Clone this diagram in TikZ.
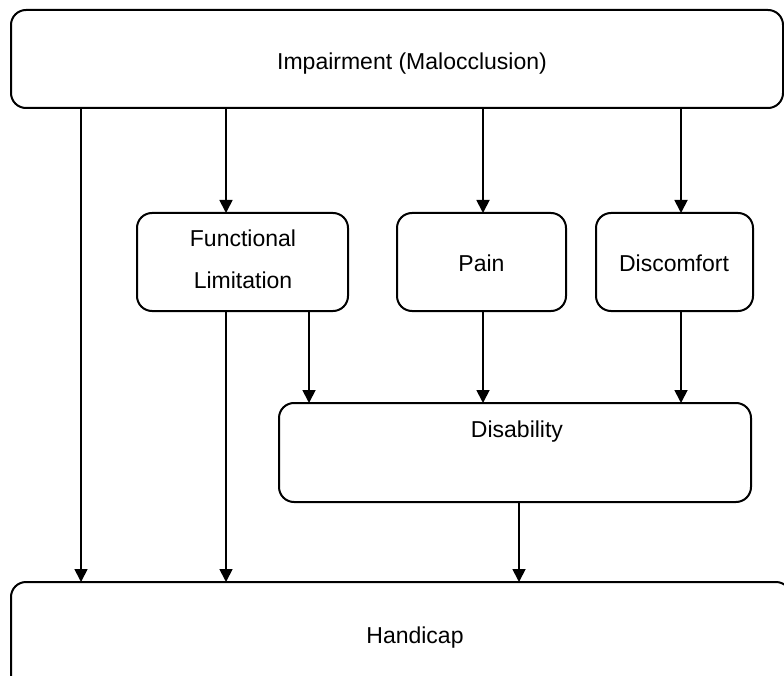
\documentclass[tikz,border=0pt]{standalone}
\usepackage{fontspec}
\setmainfont{Liberation Sans}
\usetikzlibrary{arrows.meta}
\begin{document}
\begin{tikzpicture}[x=1pt,y=-1pt,
  box/.style={draw, line width=2pt, rounded corners=15pt, rectangle,
              inner sep=0pt, outer sep=0pt},
  lbl/.style={anchor=base, inner sep=0pt, font=\fontsize{23}{27}\selectfont},
  arr/.style={line width=1.8pt, -{Triangle[length=13pt,width=13pt]}}]
\useasboundingbox (0,0) rectangle (784,676);

% boxes
\node[box, minimum width=772pt, minimum height=98pt] (imp)  at (397,59)    {};
\node[box, minimum width=211pt, minimum height=98pt] (func) at (242.5,262) {};
\node[box, minimum width=169pt, minimum height=98pt] (pain) at (481.5,262) {};
\node[box, minimum width=157pt, minimum height=98pt] (disc) at (674.5,262) {};
\node[box, minimum width=472pt, minimum height=99pt] (dis)  at (515,452.5) {};
\node[box, minimum width=780pt, minimum height=108pt] (hand) at (401,636)  {};

% labels
\node[lbl] (impT)  at (412,70)  {Impairment (Malocclusion)};
\node[lbl] (funcT) at (243,247) {Functional};
\node[lbl] (funcU) at (243,288) {Limitation};
\node[lbl] (painT) at (481.5,272) {Pain};
\node[lbl] (discT) at (674,272) {Discomfort};
\node[lbl] (disT)  at (517,437) {Disability};
\node[lbl] (handT) at (415,643) {Handicap};

% columns of the connectors
\coordinate (c1) at (81,0);
\coordinate (c2) at (226,0);
\coordinate (c3) at (309,0);
\coordinate (c4) at (483,0);
\coordinate (c5) at (681,0);
\coordinate (c6) at (519,0);

% connectors
\draw[arr] (imp.south -| c1) -- (hand.north -| c1);
\draw[arr] (imp.south -| c2) -- (func.north -| c2);
\draw[arr] (imp.south -| c4) -- (pain.north -| c4);
\draw[arr] (imp.south -| c5) -- (disc.north -| c5);
\draw[arr] (func.south -| c2) -- (hand.north -| c2);
\draw[arr] (func.south -| c3) -- (dis.north -| c3);
\draw[arr] (pain.south -| c4) -- (dis.north -| c4);
\draw[arr] (disc.south -| c5) -- (dis.north -| c5);
\draw[arr] (dis.south -| c6) -- (hand.north -| c6);
\end{tikzpicture}
\end{document}
